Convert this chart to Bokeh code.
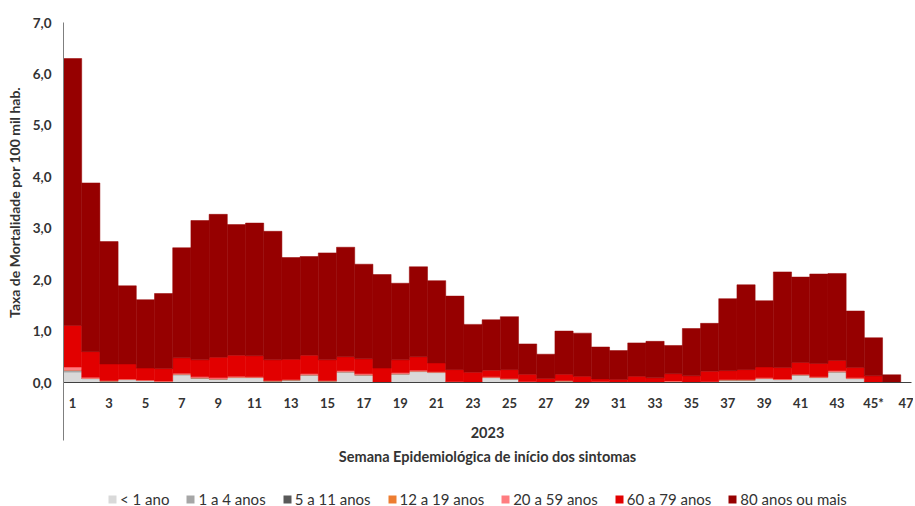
from bokeh.plotting import figure
from bokeh.models import Range1d, FixedTicker, Legend, LegendItem, Title
from bokeh.layouts import column
from bokeh.embed import file_html
from bokeh.resources import INLINE

# ---- data ----
weeks = list(range(1, 47))
x_tick_values = list(range(1, 48, 2))
x_tick_overrides = {45: "45*"}
y_tick_values = [0, 1, 2, 3, 4, 5, 6, 7]
y_tick_labels = ["0,0", "1,0", "2,0", "3,0", "4,0", "5,0", "6,0", "7,0"]
year_label = "2023"

series_names = ["< 1 ano", "1 a 4 anos", "5 a 11 anos", "12 a 19 anos",
                "20 a 59 anos", "60 a 79 anos", "80 anos ou mais"]
series_colors = ["#d9d9d9", "#a6a6a6", "#595959", "#ed7d31",
                 "#ff7c80", "#e20000", "#960000"]

lt1 = [0.20, 0.07, 0.02, 0.05, 0.03, 0.01, 0.14, 0.08, 0.06, 0.09,
       0.09, 0.02, 0.04, 0.14, 0.02, 0.20, 0.14, 0.00, 0.16, 0.21,
       0.19, 0.01, 0.00, 0.09, 0.06, 0.00, 0.00, 0.03, 0.00, 0.00,
       0.00, 0.00, 0.00, 0.00, 0.00, 0.01, 0.04, 0.04, 0.07, 0.05,
       0.14, 0.09, 0.20, 0.07, 0.00, 0.00]
a1_4 = [0.04, 0.01, 0.01, 0.01, 0.01, 0.01, 0.02, 0.01, 0.01, 0.01,
        0.01, 0.01, 0.01, 0.01, 0.01, 0.01, 0.01, 0.00, 0.01, 0.01,
        0.01, 0.00, 0.00, 0.01, 0.01, 0.00, 0.00, 0.00, 0.00, 0.00,
        0.00, 0.00, 0.00, 0.00, 0.00, 0.00, 0.01, 0.01, 0.01, 0.01,
        0.01, 0.01, 0.01, 0.01, 0.00, 0.00]
a5_11 = [0.00, 0.00, 0.00, 0.00, 0.00, 0.00, 0.00, 0.00, 0.00, 0.00,
         0.00, 0.00, 0.00, 0.00, 0.00, 0.00, 0.00, 0.00, 0.00, 0.00,
         0.00, 0.00, 0.00, 0.00, 0.00, 0.00, 0.00, 0.00, 0.00, 0.02,
         0.00, 0.00, 0.00, 0.00, 0.00, 0.00, 0.00, 0.00, 0.00, 0.00,
         0.00, 0.00, 0.00, 0.00, 0.00, 0.00]
a12_19 = [0.00, 0.00, 0.00, 0.00, 0.00, 0.00, 0.00, 0.00, 0.00, 0.00,
          0.00, 0.00, 0.00, 0.00, 0.00, 0.00, 0.00, 0.00, 0.00, 0.00,
          0.00, 0.00, 0.00, 0.00, 0.00, 0.01, 0.01, 0.00, 0.00, 0.00,
          0.00, 0.00, 0.00, 0.02, 0.00, 0.00, 0.00, 0.00, 0.00, 0.00,
          0.00, 0.00, 0.00, 0.00, 0.00, 0.00]
a20_59 = [0.06, 0.02, 0.01, 0.01, 0.01, 0.01, 0.02, 0.02, 0.02, 0.02,
          0.01, 0.01, 0.01, 0.02, 0.01, 0.02, 0.02, 0.01, 0.02, 0.02,
          0.01, 0.01, 0.01, 0.01, 0.01, 0.01, 0.00, 0.01, 0.01, 0.00,
          0.00, 0.01, 0.01, 0.01, 0.01, 0.01, 0.01, 0.01, 0.01, 0.01,
          0.01, 0.01, 0.02, 0.01, 0.01, 0.00]
a60_79 = [0.81, 0.50, 0.32, 0.29, 0.23, 0.24, 0.30, 0.33, 0.40, 0.41,
          0.41, 0.40, 0.39, 0.36, 0.40, 0.27, 0.29, 0.27, 0.25, 0.26,
          0.17, 0.23, 0.19, 0.13, 0.17, 0.14, 0.07, 0.12, 0.11, 0.05,
          0.06, 0.11, 0.08, 0.14, 0.12, 0.20, 0.17, 0.19, 0.21, 0.22,
          0.23, 0.26, 0.20, 0.20, 0.12, 0.00]
a80 = [5.19, 3.28, 2.38, 1.52, 1.33, 1.46, 2.14, 2.71, 2.78, 2.54,
       2.58, 2.50, 1.98, 1.92, 2.08, 2.13, 1.84, 1.82, 1.49, 1.75,
       1.60, 1.43, 0.93, 0.98, 1.03, 0.59, 0.47, 0.84, 0.84, 0.62,
       0.56, 0.65, 0.71, 0.55, 0.92, 0.93, 1.40, 1.65, 1.29, 1.86,
       1.66, 1.74, 1.69, 1.10, 0.74, 0.15]

data = {"week": weeks, "s0": lt1, "s1": a1_4, "s2": a5_11, "s3": a12_19,
        "s4": a20_59, "s5": a60_79, "s6": a80}
keys = ["s0", "s1", "s2", "s3", "s4", "s5", "s6"]

FONT = "Lato"
TXT = "#333333"

p = figure(frame_width=848, frame_height=360, output_backend="svg",
           toolbar_location=None,
           x_range=Range1d(0.5, 47.09), y_range=Range1d(0, 7),
           min_border_left=63, min_border_right=2, min_border_top=22,
           min_border_bottom=0)
p.outline_line_color = None
p.grid.grid_line_color = None

renderers = p.vbar_stack(keys, x="week", width=1.0, source=data,
                         color=series_colors, line_width=0.5)

# x axis
xa = p.xaxis[0]
xa.ticker = FixedTicker(ticks=x_tick_values, minor_ticks=[0.5])
xa.major_label_overrides = x_tick_overrides
xa.major_tick_line_color = None
xa.major_tick_out = 0
xa.major_tick_in = 0
xa.minor_tick_in = 0
xa.minor_tick_out = 58
xa.minor_tick_line_color = "#7f7f7f"
xa.minor_tick_line_width = 1
xa.axis_line_color = "#404040"
xa.axis_line_width = 1
xa.major_label_standoff = -46
xa.major_label_text_font = FONT
xa.major_label_text_font_style = "bold"
xa.major_label_text_font_size = "13px"
xa.major_label_text_color = TXT
xa.axis_label = year_label
xa.axis_label_text_font = FONT
xa.axis_label_text_font_style = "bold"
xa.axis_label_text_font_size = "14.5px"
xa.axis_label_text_color = TXT
xa.axis_label_standoff = 13

# y axis
ya = p.yaxis[0]
ya.ticker = FixedTicker(ticks=y_tick_values)
ya.major_label_overrides = dict(zip(y_tick_values, y_tick_labels))
ya.major_tick_line_color = None
ya.minor_tick_line_color = None
ya.major_tick_out = 0
ya.major_tick_in = 0
ya.axis_line_color = "#7f7f7f"
ya.major_label_standoff = 12
ya.major_label_text_font = FONT
ya.major_label_text_font_style = "bold"
ya.major_label_text_font_size = "13.5px"
ya.major_label_text_color = TXT
ya.axis_label = "Taxa de Mortalidade por 100 mil hab."
ya.axis_label_text_font = FONT
ya.axis_label_text_font_style = "bold"
ya.axis_label_text_font_size = "14px"
ya.axis_label_text_color = TXT
ya.axis_label_standoff = 7

# x axis title
t = Title(text="Semana Epidemiológica de início dos sintomas", align="center",
          text_font=FONT, text_font_style="bold", text_font_size="14.5px",
          text_color=TXT, standoff=11, offset=0)
p.add_layout(t, "below")

# legend in a slim figure underneath (key swatches are zero-height)
swatch_x = [0.5]
swatch_top = [0]
lg = figure(width=913, height=40, output_backend="svg", toolbar_location=None,
            x_range=Range1d(0, 1), y_range=Range1d(0, 1),
            min_border=0)
lg.axis.visible = False
lg.grid.grid_line_color = None
lg.outline_line_color = None
leg_renderers = [lg.vbar(x=swatch_x, top=swatch_top, bottom=0, width=0.01,
                         fill_color=c, line_color=None)
                 for c in series_colors]

legend = Legend(items=[LegendItem(label=n, renderers=[r])
                       for n, r in zip(series_names, leg_renderers)],
                orientation="horizontal", location=(44, 2),
                glyph_width=10, glyph_height=10, label_standoff=3,
                spacing=16, padding=0, margin=0,
                label_text_font=FONT, label_text_font_size="15px",
                label_text_color=TXT, border_line_color=None,
                background_fill_alpha=0)
lg.add_layout(legend)

layout = column(p, lg, spacing=0)
open("out.html", "w").write(file_html(layout, INLINE))
